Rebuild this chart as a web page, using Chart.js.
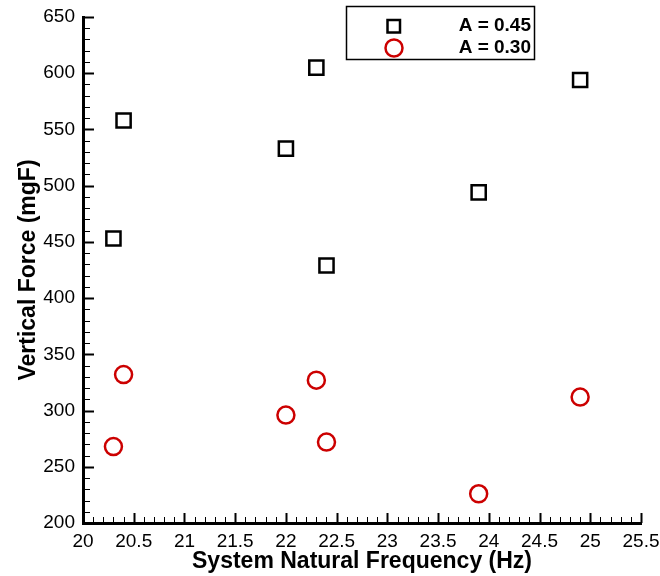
<!DOCTYPE html>
<html>
<head>
<meta charset="utf-8">
<script src="https://cdn.jsdelivr.net/npm/chart.js@4"></script>
<style>
  html, body { margin: 0; padding: 0; background: #fff; }
  #wrap { width: 660px; height: 576px; }
</style>
</head>
<body>
<div id="wrap"><canvas id="chart" width="660" height="576"></canvas></div>
<script>
// values
var freq = [20.3, 20.4, 22.0, 22.3, 22.4, 23.9, 24.9];
var forceA045 = [453, 558, 533, 605, 429, 494, 594];
var forceA030 = [268, 332, 296, 327, 272, 226, 312];
var seriesLabels = ['A = 0.45', 'A = 0.30'];

var FONT = 'Liberation Sans, Arial, sans-serif';

function toPoints(xs, ys) {
    return xs.map((x, i) => ({ x: x, y: ys[i] }));
}

// inward major and minor ticks, drawn from the scales
const inwardTicks = {
    id: 'inwardTicks',
    afterDraw(chart) {
        const ctx = chart.ctx, a = chart.chartArea;
        const xs = chart.scales.x, ys = chart.scales.y;
        ctx.save();
        ctx.strokeStyle = '#000';
        for (let v = 20; v <= 25.5001; v += 0.1) {
            const px = Math.round(xs.getPixelForValue(v)) + 0.5;
            const major = Math.abs(v * 2 - Math.round(v * 2)) < 1e-6;
            ctx.lineWidth = major ? 2 : 1;
            ctx.beginPath();
            ctx.moveTo(px, a.bottom);
            ctx.lineTo(px, a.bottom - (major ? 10 : 6));
            ctx.stroke();
        }
        for (let v = 200; v <= 650; v += 10) {
            const py = Math.round(ys.getPixelForValue(v)) + 0.5;
            const major = v % 50 === 0;
            ctx.lineWidth = major ? 2 : 1;
            ctx.beginPath();
            ctx.moveTo(a.left, py);
            ctx.lineTo(a.left + (major ? 11 : 7), py);
            ctx.stroke();
        }
        ctx.restore();
    }
};

// boxed legend in the top right
const boxLegend = {
    id: 'boxLegend',
    afterDraw(chart) {
        const ctx = chart.ctx;
        ctx.save();
        ctx.strokeStyle = '#000';
        ctx.lineWidth = 1.5;
        ctx.strokeRect(346.5, 6.5, 188, 53);
        ctx.font = 'bold 19px ' + FONT;
        ctx.textAlign = 'right';
        ctx.textBaseline = 'middle';
        ctx.fillStyle = '#000';
        // square
        ctx.lineWidth = 2.5;
        ctx.strokeStyle = '#000';
        ctx.strokeRect(387.5, 20, 12.5, 12.5);
        ctx.fillText(seriesLabels[0], 531, 26);
        // circle
        ctx.strokeStyle = '#cc0000';
        ctx.beginPath();
        ctx.arc(394, 48, 8.5, 0, Math.PI * 2);
        ctx.stroke();
        ctx.fillText(seriesLabels[1], 531, 48);
        ctx.restore();
    }
};

const ctx = document.getElementById('chart').getContext('2d');
const scatter = new Chart(ctx, {
    type: 'scatter',
    data: {
        datasets: [{
            label: seriesLabels[0],
            data: toPoints(freq, forceA045),
            pointStyle: 'rect',
            pointRadius: 10,
            pointBorderWidth: 2.5,
            borderColor: '#000',
            backgroundColor: 'rgba(0,0,0,0)'
        }, {
            label: seriesLabels[1],
            data: toPoints(freq, forceA030),
            pointStyle: 'circle',
            pointRadius: 8.5,
            pointBorderWidth: 2.5,
            borderColor: '#cc0000',
            backgroundColor: 'rgba(0,0,0,0)'
        }]
    },
    options: {
        responsive: false,
        animation: false,
        layout: { padding: { top: 17, right: 19, bottom: 1, left: 6 } },
        plugins: { legend: { display: false }, tooltip: { enabled: false } },
        scales: {
            x: {
                type: 'linear', min: 20, max: 25.5,
                grid: { display: false, drawTicks: false },
                border: { display: true, color: '#000', width: 3 },
                ticks: {
                    stepSize: 0.5, color: '#000', padding: 7, maxRotation: 0,
                    font: { family: FONT, size: 19 },
                    callback: (v) => String(Math.round(v * 10) / 10)
                },
                title: {
                    display: true, text: 'System Natural Frequency (Hz)', color: '#000',
                    font: { family: FONT, size: 23, weight: 'bold' }, padding: { top: 0, bottom: 0 }
                },
                afterFit(scale) {
                    scale.height = 52;
                    scale.paddingLeft = 0;
                    scale.paddingRight = 0;
                }
            },
            y: {
                type: 'linear', min: 200, max: 650,
                grid: { display: false, drawTicks: false },
                border: { display: true, color: '#000', width: 3 },
                ticks: {
                    stepSize: 50, color: '#000', padding: 8,
                    font: { family: FONT, size: 19 }
                },
                title: {
                    display: true, text: 'Vertical Force (mgF)', color: '#000',
                    font: { family: FONT, size: 23, weight: 'bold' }, padding: { top: 9, bottom: 0 }
                },
                afterFit(scale) {
                    scale.width = 77;
                    scale.paddingTop = 0;
                    scale.paddingBottom = 0;
                }
            }
        }
    },
    plugins: [inwardTicks, boxLegend]
});
</script>
</body>
</html>
